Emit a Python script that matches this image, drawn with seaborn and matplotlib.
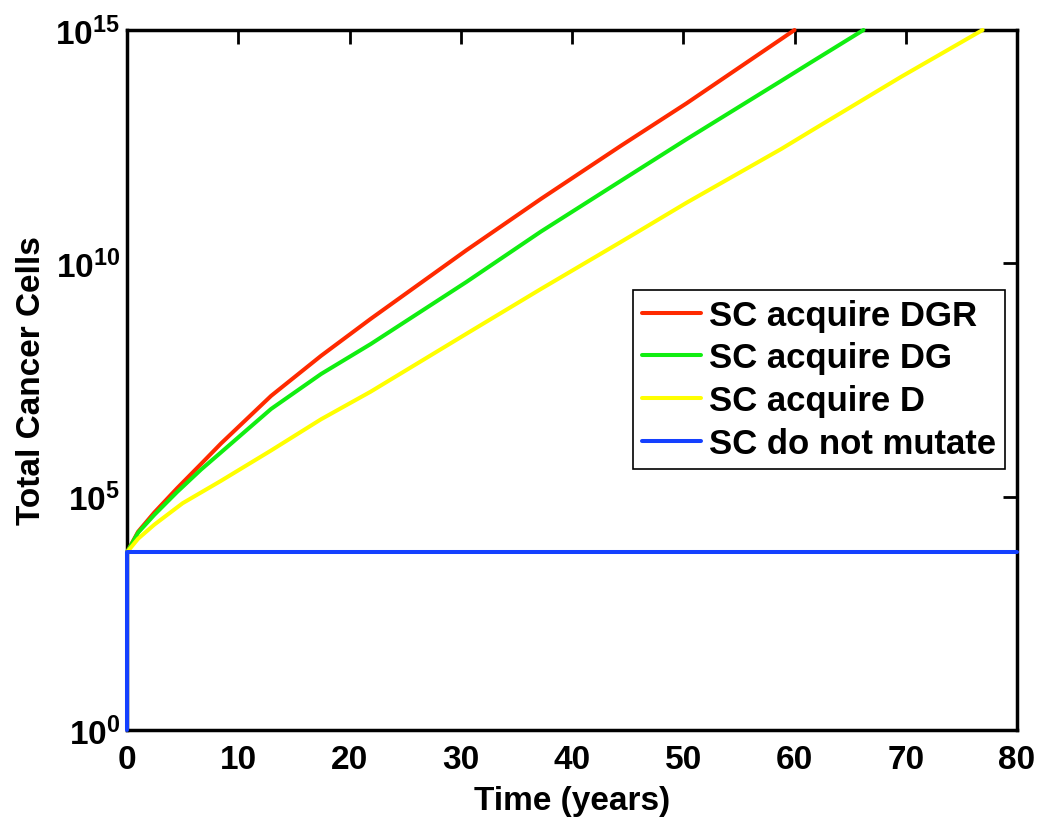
import numpy as np
import pandas as pd
import matplotlib
matplotlib.use("Agg")
import matplotlib.pyplot as plt
from matplotlib.ticker import NullLocator
import seaborn as sns

# ---- data (time in years, log10 of total cancer cells) ----
series_names = ["SC acquire DGR", "SC acquire DG", "SC acquire D", "SC do not mutate"]

years_dgr = [0, 1, 2.45, 4.5, 6.65, 8.45, 12.95, 17.45, 21.9, 30.5, 37.2, 44.4, 50.3, 60.0]
log_dgr = [3.81, 4.25, 4.66, 5.18, 5.70, 6.14, 7.16, 8.02, 8.81, 10.28, 11.38, 12.52, 13.43, 15.0]

years_dg = [0, 1, 2.45, 4.5, 6.65, 8.45, 12.95, 17.45, 21.9, 30.5, 37.2, 44.4, 50.3, 58.8, 61.5, 66.2]
log_dg = [3.81, 4.23, 4.61, 5.10, 5.58, 5.95, 6.88, 7.63, 8.27, 9.60, 10.68, 11.77, 12.66, 13.91, 14.31, 15.0]

years_d = [0, 1, 2.45, 5, 8.45, 12.95, 17.45, 21.9, 30.5, 37.2, 44.4, 50.3, 58.8, 61.5, 69.6, 76.9]
log_d = [3.81, 4.10, 4.40, 4.86, 5.34, 5.99, 6.66, 7.25, 8.49, 9.45, 10.46, 11.30, 12.45, 12.84, 14.0, 15.0]

years_none = [0, 0, 80]
log_none = [0, 3.81, 3.81]

colors = ["#ff2a00", "#11ee11", "#ffff00", "#1440ff"]

frames = []
for name, t, lg in zip(series_names,
                       [years_dgr, years_dg, years_d, years_none],
                       [log_dgr, log_dg, log_d, log_none]):
    frames.append(pd.DataFrame({"Time": t, "Cells": np.power(10.0, lg), "Series": name}))
df = pd.concat(frames, ignore_index=True)

# ---- style ----
sns.set_theme(style="white")
plt.rcParams["font.family"] = ["Liberation Sans", "DejaVu Sans"]
plt.rcParams["font.weight"] = "bold"
plt.rcParams["text.color"] = "black"
plt.rcParams["axes.labelcolor"] = "black"
plt.rcParams["xtick.color"] = "black"
plt.rcParams["ytick.color"] = "black"
plt.rcParams["mathtext.fontset"] = "custom"
plt.rcParams["mathtext.rm"] = "Liberation Sans:bold"
plt.rcParams["mathtext.it"] = "Liberation Sans:bold"
plt.rcParams["mathtext.bf"] = "Liberation Sans:bold"
plt.rcParams["mathtext.default"] = "regular"

fig = plt.figure(figsize=(10.41, 8.2), dpi=100)
ax = fig.add_axes([0.122, 0.1085, 0.855, 0.8537])

sns.lineplot(data=df, x="Time", y="Cells", hue="Series", hue_order=series_names,
             palette=dict(zip(series_names, colors)), estimator=None, sort=False,
             linewidth=2.9, ax=ax)
for ln in ax.get_lines():
    ln.set_clip_on(False)
    ln.set_zorder(3)

ax.set_yscale("log")
ax.set_xlim(0, 80)
ax.set_ylim(1, 1e15)
ax.set_yticks([1, 1e5, 1e10, 1e15])
ax.yaxis.set_minor_locator(NullLocator())
ax.set_xticks(range(0, 81, 10))
ax.tick_params(direction="in", length=10, width=2, top=True, right=True,
               labelsize=24, colors="black")
ax.tick_params(axis="x", pad=10)
ax.tick_params(axis="y", pad=5)
for lab in ax.get_xticklabels() + ax.get_yticklabels():
    lab.set_fontweight("bold")
for s in ax.spines.values():
    s.set_visible(True)
    s.set_linewidth(2.5)
    s.set_color("black")

ax.set_xlabel("Time (years)", fontsize=24, fontweight="bold", labelpad=7, color="black")
ax.set_ylabel("Total Cancer Cells", fontsize=24, fontweight="bold", labelpad=6, color="black")

handles, labels = ax.get_legend_handles_labels()
leg = ax.legend(handles, labels, loc="upper right", bbox_to_anchor=(0.9865, 0.6286),
                borderaxespad=0, fontsize=25, frameon=True, fancybox=False,
                edgecolor="black", facecolor="white", framealpha=1,
                handlelength=1.7, handletextpad=0.25, labelspacing=0.28, borderpad=0.25)
leg.get_frame().set_linewidth(1.2)
for t in leg.get_texts():
    t.set_fontweight("bold")
    t.set_color("black")
for h in leg.get_lines():
    h.set_linewidth(2.9)

fig.savefig("out.png", dpi=100, facecolor="white")
